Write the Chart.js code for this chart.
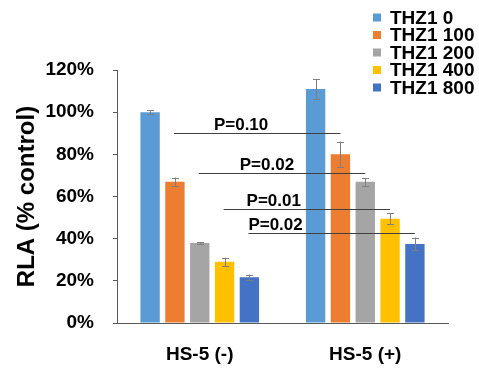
<!DOCTYPE html>
<html>
<head>
<meta charset="utf-8">
<script src="https://cdn.jsdelivr.net/npm/chart.js@4"></script>
<style>
  html, body { margin: 0; padding: 0; background: #fff; }
  #wrap { width: 479px; height: 375px; position: relative; }
</style>
</head>
<body>
<div id="wrap"><canvas id="rlaChart"></canvas></div>
<script>
// RLA (% control) for HS-5 (-) / HS-5 (+) across THZ1 doses
const GROUPS = ['HS-5 (-)', 'HS-5 (+)'];
const DOSE_LABELS = ['THZ1 0', 'THZ1 100', 'THZ1 200', 'THZ1 400', 'THZ1 800'];
const DOSE_COLORS = ['#5B9BD5', '#ED7D31', '#A5A5A5', '#FFC000', '#4472C4'];

// one array per dose: [HS-5 (-), HS-5 (+)]
const THZ1_0   = [100, 111];
const THZ1_100 = [67, 80];
const THZ1_200 = [38, 67];
const THZ1_400 = [29, 49.5];
const THZ1_800 = [21.7, 37.5];
const SERIES = [THZ1_0, THZ1_100, THZ1_200, THZ1_400, THZ1_800];

// +/- error per dose
const ERR_0   = [1, 4.7];
const ERR_100 = [2, 6];
const ERR_200 = [0.4, 1.8];
const ERR_400 = [2, 2.7];
const ERR_800 = [1.3, 3];
const ERRORS = [ERR_0, ERR_100, ERR_200, ERR_400, ERR_800];

const Y_TICKS = [0, 20, 40, 60, 80, 100, 120];

// significance brackets: dose index they join across groups, level, label
const P_DOSE = [1, 2, 3, 4];
const P_LEVEL = [90, 71, 54.2, 42.5];
const P_TEXT = ['P=0.10', 'P=0.02', 'P=0.01', 'P=0.02'];

const FONT = '"Liberation Sans", Arial, sans-serif';

const errorBars = {
    id: 'errorBars',
    afterDatasetsDraw(chart) {
        const { ctx } = chart;
        const y = chart.scales.y;
        ctx.save();
        ctx.strokeStyle = '#7f7f7f';
        ctx.lineWidth = 1;
        chart.data.datasets.forEach((ds, di) => {
            chart.getDatasetMeta(di).data.forEach((bar, i) => {
                const v = ds.data[i], e = ERRORS[di][i];
                const x = Math.round(bar.x) + 0.5;
                const top = y.getPixelForValue(v + e), bot = y.getPixelForValue(v - e);
                ctx.beginPath();
                ctx.moveTo(x, top); ctx.lineTo(x, bot);
                ctx.moveTo(x - 3.5, Math.round(top) + 0.5); ctx.lineTo(x + 3.5, Math.round(top) + 0.5);
                ctx.moveTo(x - 3.5, Math.round(bot) + 0.5); ctx.lineTo(x + 3.5, Math.round(bot) + 0.5);
                ctx.stroke();
            });
        });
        ctx.restore();
    }
};

const pBrackets = {
    id: 'pBrackets',
    afterDatasetsDraw(chart) {
        const { ctx } = chart;
        const y = chart.scales.y;
        const textShift = [40, 41, 23, 0]; // label nudge right of line start
        ctx.save();
        ctx.strokeStyle = '#404040';
        ctx.lineWidth = 1;
        ctx.fillStyle = '#000';
        ctx.font = 'bold 17px ' + FONT;
        ctx.textBaseline = 'alphabetic';
        P_DOSE.forEach((d, k) => {
            const bars = chart.getDatasetMeta(d).data;
            const py = Math.round(y.getPixelForValue(P_LEVEL[k])) + 0.5;
            const x0 = bars[0].x - 1, x1 = bars[1].x;
            ctx.beginPath();
            ctx.moveTo(x0, py); ctx.lineTo(x1, py);
            ctx.stroke();
            ctx.fillText(P_TEXT[k], x0 + textShift[k], py - 4);
        });
        ctx.restore();
    }
};

const sideLegend = {
    id: 'sideLegend',
    afterDraw(chart) {
        const { ctx } = chart;
        ctx.save();
        ctx.font = 'bold 19px ' + FONT;
        ctx.textBaseline = 'middle';
        chart.data.datasets.forEach((ds, i) => {
            const cy = 17.5 + i * 17.5;
            ctx.fillStyle = ds.backgroundColor;
            ctx.fillRect(373, cy - 4, 8, 8);
            ctx.fillStyle = '#000';
            ctx.fillText(ds.label, 390, cy + 1);
        });
        ctx.restore();
    }
};

new Chart(document.getElementById('rlaChart'), {
    type: 'bar',
    data: {
        labels: GROUPS,
        datasets: SERIES.map((vals, i) => ({
            label: DOSE_LABELS[i],
            data: vals,
            backgroundColor: DOSE_COLORS[i],
            borderWidth: 0,
            categoryPercentage: 0.75,
            barPercentage: 0.78
        }))
    },
    options: {
        responsive: true,
        maintainAspectRatio: false,
        animation: false,
        layout: { padding: { left: 0, top: 70, right: 31, bottom: 0 } },
        plugins: {
            legend: { display: false },
            tooltip: { enabled: false }
        },
        scales: {
            x: {
                grid: { display: false, drawTicks: false },
                border: { display: true, color: '#595959', width: 1 },
                ticks: { color: '#000', padding: 20, font: { family: FONT, size: 19, weight: 'bold' } },
                afterFit(s) { s.height = 52; }
            },
            y: {
                min: 0,
                max: 120,
                afterBuildTicks(s) { s.ticks = Y_TICKS.map(v => ({ value: v })); },
                grid: { drawOnChartArea: false, drawTicks: true, tickLength: 4, color: '#595959' },
                border: { display: true, color: '#595959', width: 1 },
                ticks: {
                    color: '#000',
                    padding: 19,
                    font: { family: FONT, size: 19, weight: 'bold' },
                    callback: v => v + '%'
                },
                title: {
                    display: true,
                    text: 'RLA (% control)',
                    color: '#000',
                    padding: { top: 13, bottom: 0 },
                    font: { family: FONT, size: 24, weight: 'bold' }
                },
                afterFit(s) { s.width = 117; }
            }
        }
    },
    plugins: [errorBars, pBrackets, sideLegend]
});
</script>
</body>
</html>
